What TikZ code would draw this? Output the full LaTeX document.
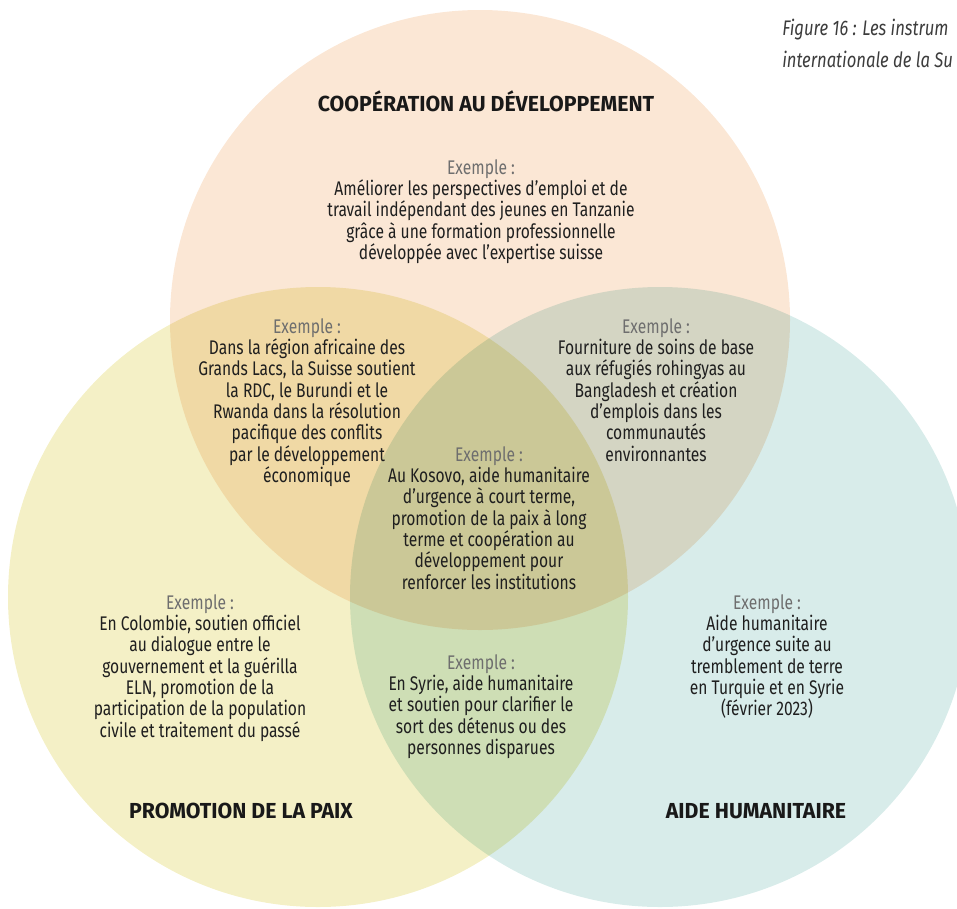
\documentclass[tikz,border=0pt]{standalone}
\usepackage{fontspec}
\setmainfont{Fira Sans}[FakeStretch=0.79]
\newfontfamily\headfont{Fira Sans}[FakeStretch=0.98]
\usetikzlibrary{positioning}
\definecolor{coopcol}{HTML}{FBE7D5}
\definecolor{paixcol}{HTML}{F4F0C6}
\definecolor{humacol}{HTML}{D8ECEA}
\definecolor{exgray}{HTML}{6E6E6E}
\definecolor{capgray}{HTML}{3C3C3C}
\tikzset{
    heading/.style={anchor=base, font=\headfont\bfseries\fontsize{16.3}{19}\selectfont, text=black!90},
    example/.style={anchor=north, align=center, inner sep=0pt, font=\fontsize{14.8}{16}\selectfont, text=black!88},
    figcap/.style={anchor=base west, inner sep=0pt, font=\itshape\fontsize{15.8}{20}\selectfont, text=capgray},
}
\newcommand{\exlabel}{{\color{exgray}Exemple :}}

\begin{document}
\begin{tikzpicture}[x=0.75pt, y=-0.75pt]
    \useasboundingbox (0,0) rectangle (957,908);
    \begin{scope}[blend group=multiply]
        \fill[coopcol] (480,320) circle[radius=310];
        \fill[paixcol] (318,597) circle[radius=310];
        \fill[humacol] (660,597) circle[radius=310];
    \end{scope}
    \node[figcap] (fig) at (782,35) {Figure 16 : Les instrum};
    \node[figcap] (figb) at (782,67) {internationale de la Su};
    \node[heading] (coop) at (486,111) {COOPÉRATION AU DÉVELOPPEMENT};
    \node[heading] (paix) at (241,818) {PROMOTION DE LA PAIX};
    \node[heading] (huma) at (756,818) {AIDE HUMANITAIRE};
    \node[example] (excoop) at (481,159) {\exlabel\\Améliorer les perspectives d'emploi et de\\travail indépendant des jeunes en Tanzanie\\grâce à une formation professionnelle\\développée avec l'expertise suisse};
    \node[example] (excp) at (307,318) {\exlabel\\Dans la région africaine des\\Grands Lacs, la Suisse soutient\\la RDC, le Burundi et le\\Rwanda dans la résolution\\pacifique des conflits\\par le développement\\économique};
    \node[example] (exch) at (656,318) {\exlabel\\Fourniture de soins de base\\aux réfugiés rohingyas au\\Bangladesh et création\\d’emplois dans les\\communautés\\environnantes};
    \node[example] (exall) at (489,446) {\exlabel\\Au Kosovo, aide humanitaire\\d’urgence à court terme,\\promotion de la paix à long\\terme et coopération au\\développement pour\\renforcer les institutions};
    \node[example] (expaix) at (200,594) {\exlabel\\En Colombie, soutien officiel\\au dialogue entre le\\gouvernement et la guérilla\\ELN, promotion de la\\participation de la population\\civile et traitement du passé};
    \node[example] (exph) at (481,654) {\exlabel\\En Syrie, aide humanitaire\\et soutien pour clarifier le\\sort des détenus ou des\\personnes disparues};
    \node[example] (exhuma) at (767,594) {\exlabel\\Aide humanitaire\\d’urgence suite au\\tremblement de terre\\en Turquie et en Syrie\\(février 2023)};
\end{tikzpicture}
\end{document}
